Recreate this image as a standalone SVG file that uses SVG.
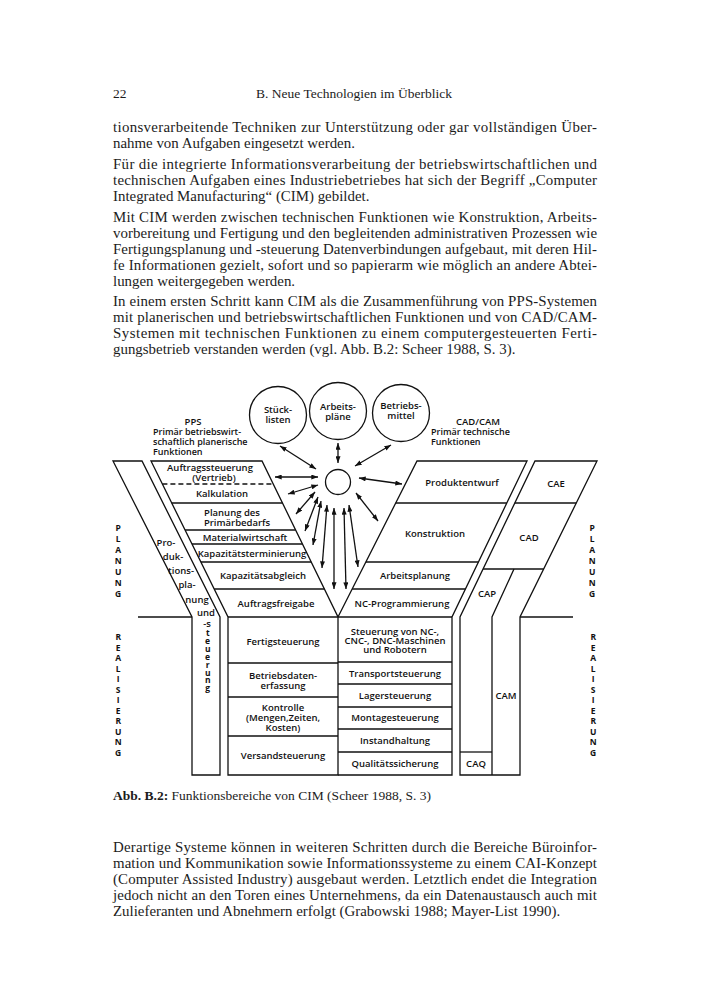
<svg xmlns="http://www.w3.org/2000/svg" width="708" height="1000" viewBox="0 0 708 1000">
<defs>
<style>
.t{font-family:"Liberation Serif",serif;font-size:14.9px;fill:#1c1c1c}
.h{font-family:"Liberation Serif",serif;font-size:13.5px;fill:#1c1c1c}
.d{font-family:"Open Sans",sans-serif;font-weight:600;font-size:9.5px;fill:#111;text-anchor:middle}
.ds{font-family:"Open Sans",sans-serif;font-weight:600;font-size:9px;fill:#111}
.v{font-family:"Open Sans",sans-serif;font-weight:700;font-size:8.5px;fill:#111;writing-mode:vertical-rl;text-orientation:upright}
.ln{fill:none;stroke:#111;stroke-width:1.3;stroke-linejoin:miter}
.ar{fill:none;stroke:#111;stroke-width:1.3;marker-start:url(#ah);marker-end:url(#ah)}
</style>
<marker id="ah" viewBox="0 0 8 6" refX="8" refY="3" markerWidth="7" markerHeight="5" orient="auto-start-reverse" markerUnits="userSpaceOnUse"><path d="M0,0 L8,3 L0,6 z" fill="#111"/></marker>
</defs>
<rect width="708" height="1000" fill="#fff"/>

<g id="header">
<text class="h" x="113" y="98">22</text>
<text class="h" x="256" y="98" textLength="196" lengthAdjust="spacing">B. Neue Technologien im Überblick</text>
</g>

<g id="text-top">
<text class="t" x="113" y="132" textLength="484" lengthAdjust="spacing">tionsverarbeitende Techniken zur Unterstützung oder gar vollständigen Über-</text>
<text class="t" x="113" y="148">nahme von Aufgaben eingesetzt werden.</text>
<text class="t" x="113" y="169" textLength="484" lengthAdjust="spacing">Für die integrierte Informationsverarbeitung der betriebswirtschaftlichen und</text>
<text class="t" x="113" y="185" textLength="484" lengthAdjust="spacing">technischen Aufgaben eines Industriebetriebes hat sich der Begriff „Computer</text>
<text class="t" x="113" y="201">Integrated Manufacturing“ (CIM) gebildet.</text>
<text class="t" x="113" y="222" textLength="484" lengthAdjust="spacing">Mit CIM werden zwischen technischen Funktionen wie Konstruktion, Arbeits-</text>
<text class="t" x="113" y="238" textLength="484" lengthAdjust="spacing">vorbereitung und Fertigung und den begleitenden administrativen Prozessen wie</text>
<text class="t" x="113" y="254" textLength="484" lengthAdjust="spacing">Fertigungsplanung und -steuerung Datenverbindungen aufgebaut, mit deren Hil-</text>
<text class="t" x="113" y="270" textLength="484" lengthAdjust="spacing">fe Informationen gezielt, sofort und so papierarm wie möglich an andere Abtei-</text>
<text class="t" x="113" y="286">lungen weitergegeben werden.</text>
<text class="t" x="113" y="306" textLength="484" lengthAdjust="spacing">In einem ersten Schritt kann CIM als die Zusammenführung von PPS-Systemen</text>
<text class="t" x="113" y="322" textLength="484" lengthAdjust="spacing">mit planerischen und betriebswirtschaftlichen Funktionen und von CAD/CAM-</text>
<text class="t" x="113" y="338" textLength="484" lengthAdjust="spacing">Systemen mit technischen Funktionen zu einem computergesteuerten Ferti-</text>
<text class="t" x="113" y="354">gungsbetrieb verstanden werden (vgl. Abb. B.2: Scheer 1988, S. 3).</text>
</g>

<g id="circle-stueckl">
<circle class="ln" cx="278" cy="415" r="28.5"/>
<text class="d" x="278" y="413">Stück-</text>
<text class="d" x="278" y="423">listen</text>
</g>
<g id="circle-arbeitsplaene">
<circle class="ln" cx="338" cy="411" r="28.5"/>
<text class="d" x="338" y="410">Arbeits-</text>
<text class="d" x="338" y="420">pläne</text>
</g>
<g id="circle-betriebsmittel">
<circle class="ln" cx="401" cy="413" r="28.5"/>
<text class="d" x="401" y="409">Betriebs-</text>
<text class="d" x="401" y="419">mittel</text>
</g>
<g id="circle-center">
<circle class="ln" cx="338" cy="482" r="12.5"/>
</g>

<g id="label-pps">
<text class="d" x="193" y="425">PPS</text>
<text class="ds" x="153" y="435">Primär betriebswirt-</text>
<text class="ds" x="153" y="445">schaftlich planerische</text>
<text class="ds" x="153" y="455">Funktionen</text>
</g>
<g id="label-cadcam">
<text class="d" x="478" y="425">CAD/CAM</text>
<text class="ds" x="431" y="435">Primär technische</text>
<text class="ds" x="431" y="445">Funktionen</text>
</g>

<g id="band-produktionsplanung">
<path class="ln" d="M113,461 L142,461 L220,617 L220,775 L192,775 L192,617 Z"/>
<line class="ln" x1="138" y1="617" x2="192" y2="617"/>
<text class="d" x="166" y="546">Pro-</text>
<text class="d" x="173" y="560">duk-</text>
<text class="d" x="181" y="574">tions-</text>
<text class="d" x="187" y="588">pla-</text>
<text class="d" x="197" y="603">nung</text>
<text class="d" x="206" y="616">und</text>
<text class="d" font-size="8.5" x="207" y="626.5">-s</text>
<text class="v" x="207.5" y="627" letter-spacing="-3.1">teuerung</text>
</g>

<g id="stack-pps">
<path class="ln" d="M151,461 L262,461 L338,617 L338,775 L228,775 L228,617 Z"/>
<line class="ln" x1="162.4" y1="484" x2="273.2" y2="484" stroke-dasharray="5,3"/>
<line class="ln" x1="171.7" y1="503" x2="282.5" y2="503"/>
<line class="ln" x1="185.1" y1="530" x2="295.6" y2="530"/>
<line class="ln" x1="192" y1="544" x2="302.4" y2="544"/>
<line class="ln" x1="200.9" y1="562" x2="311.2" y2="562"/>
<line class="ln" x1="214.2" y1="589" x2="324.4" y2="589"/>
<line class="ln" x1="228" y1="617" x2="338" y2="617"/>
<line class="ln" x1="228" y1="663" x2="338" y2="663"/>
<line class="ln" x1="228" y1="697" x2="338" y2="697"/>
<line class="ln" x1="228" y1="736" x2="338" y2="736"/>
<text class="d" x="210" y="471">Auftragssteuerung</text>
<text class="d" x="214" y="481">(Vertrieb)</text>
<text class="d" x="222" y="497">Kalkulation</text>
<text class="d" x="232" y="516">Planung des</text>
<text class="d" x="237" y="526">Primärbedarfs</text>
<text class="d" x="245" y="541">Materialwirtschaft</text>
<text class="d" x="252" y="557">Kapazitätsterminierung</text>
<text class="d" x="263" y="579">Kapazitätsabgleich</text>
<text class="d" x="276" y="607">Auftragsfreigabe</text>
<text class="d" x="283" y="645">Fertigsteuerung</text>
<text class="d" x="283" y="679">Betriebsdaten-</text>
<text class="d" x="283" y="689">erfassung</text>
<text class="d" x="283" y="711">Kontrolle</text>
<text class="d" x="283" y="721">(Mengen,Zeiten,</text>
<text class="d" x="283" y="731">Kosten)</text>
<text class="d" x="283" y="759">Versandsteuerung</text>
</g>

<g id="stack-cadcam">
<path class="ln" d="M338,617 L417,461 L527,461 L452,617 L452,775 L338,775"/>
<line class="ln" x1="395.7" y1="503" x2="506.8" y2="503"/>
<line class="ln" x1="365.9" y1="562" x2="478.4" y2="562"/>
<line class="ln" x1="352.2" y1="589" x2="465.5" y2="589"/>
<line class="ln" x1="338" y1="617" x2="452" y2="617"/>
<line class="ln" x1="338" y1="662" x2="452" y2="662"/>
<line class="ln" x1="338" y1="684" x2="452" y2="684"/>
<line class="ln" x1="338" y1="707" x2="452" y2="707"/>
<line class="ln" x1="338" y1="729" x2="452" y2="729"/>
<line class="ln" x1="338" y1="752" x2="452" y2="752"/>
<text class="d" x="462" y="486">Produktentwurf</text>
<text class="d" x="435" y="537">Konstruktion</text>
<text class="d" x="415" y="579">Arbeitsplanung</text>
<text class="d" x="402" y="607">NC-Programmierung</text>
<text class="d" x="395" y="635">Steuerung von NC-,</text>
<text class="d" x="395" y="644">CNC-, DNC-Maschinen</text>
<text class="d" x="395" y="653">und Robotern</text>
<text class="d" x="395" y="677">Transportsteuerung</text>
<text class="d" x="395" y="699">Lagersteuerung</text>
<text class="d" x="395" y="721">Montagesteuerung</text>
<text class="d" x="395" y="744">Instandhaltung</text>
<text class="d" x="395" y="767">Qualitätssicherung</text>
</g>

<g id="stack-cax">
<path class="ln" d="M535,461 L597,461 L520,617 L520,775 L460,775 L460,617 Z"/>
<line class="ln" x1="514.8" y1="503" x2="576.3" y2="503"/>
<line class="ln" x1="483.1" y1="569" x2="543.7" y2="569"/>
<path class="ln" d="M514,569 L492,617 L492,775"/>
<line class="ln" x1="460" y1="752" x2="492" y2="752"/>
<line class="ln" x1="520" y1="617" x2="573" y2="617"/>
<text class="d" x="556" y="487">CAE</text>
<text class="d" x="529" y="541">CAD</text>
<text class="d" x="487" y="597">CAP</text>
<text class="d" x="506" y="699">CAM</text>
<text class="d" x="476" y="767">CAQ</text>
</g>

<g id="side-labels">
<text class="v" x="118" y="521.5">PLANUNG</text>
<text class="v" x="592" y="521.5">PLANUNG</text>
<text class="v" x="118" y="631" letter-spacing="-0.5">REALISIERUNG</text>
<text class="v" x="593" y="631" letter-spacing="-0.5">REALISIERUNG</text>
</g>

<g id="connectors">
<line class="ar" x1="280" y1="446" x2="316" y2="469"/>
<line class="ar" x1="338" y1="443" x2="338" y2="463"/>
<line class="ar" x1="391" y1="445" x2="355" y2="466"/>
<line class="ar" x1="275" y1="477" x2="318" y2="477"/>
<line class="ar" x1="359" y1="478" x2="402" y2="484"/>
<line class="ar" x1="288" y1="494" x2="318" y2="485"/>
<line class="ar" x1="315" y1="492" x2="296" y2="514"/>
<line class="ar" x1="318" y1="497" x2="305" y2="531"/>
<line class="ar" x1="321" y1="501" x2="313" y2="545"/>
<line class="ar" x1="327" y1="505" x2="322" y2="568"/>
<line class="ar" x1="334" y1="508" x2="334" y2="589"/>
<line class="ar" x1="344" y1="508" x2="346" y2="589"/>
<line class="ar" x1="349" y1="505" x2="358" y2="567"/>
<line class="ar" x1="356" y1="493" x2="378" y2="521"/>
</g>

<g id="caption">
<text class="h" x="113" y="800"><tspan font-weight="bold">Abb. B.2:</tspan> Funktionsbereiche von CIM (Scheer 1988, S. 3)</text>
</g>

<g id="text-bottom">
<text class="t" x="113" y="852" textLength="484" lengthAdjust="spacing">Derartige Systeme können in weiteren Schritten durch die Bereiche Büroinfor-</text>
<text class="t" x="113" y="868" textLength="484" lengthAdjust="spacing">mation und Kommunikation sowie Informationssysteme zu einem CAI-Konzept</text>
<text class="t" x="113" y="884" textLength="484" lengthAdjust="spacing">(Computer Assisted Industry) ausgebaut werden. Letztlich endet die Integration</text>
<text class="t" x="113" y="900" textLength="484" lengthAdjust="spacing">jedoch nicht an den Toren eines Unternehmens, da ein Datenaustausch auch mit</text>
<text class="t" x="113" y="916">Zulieferanten und Abnehmern erfolgt (Grabowski 1988; Mayer-List 1990).</text>
</g>
</svg>
